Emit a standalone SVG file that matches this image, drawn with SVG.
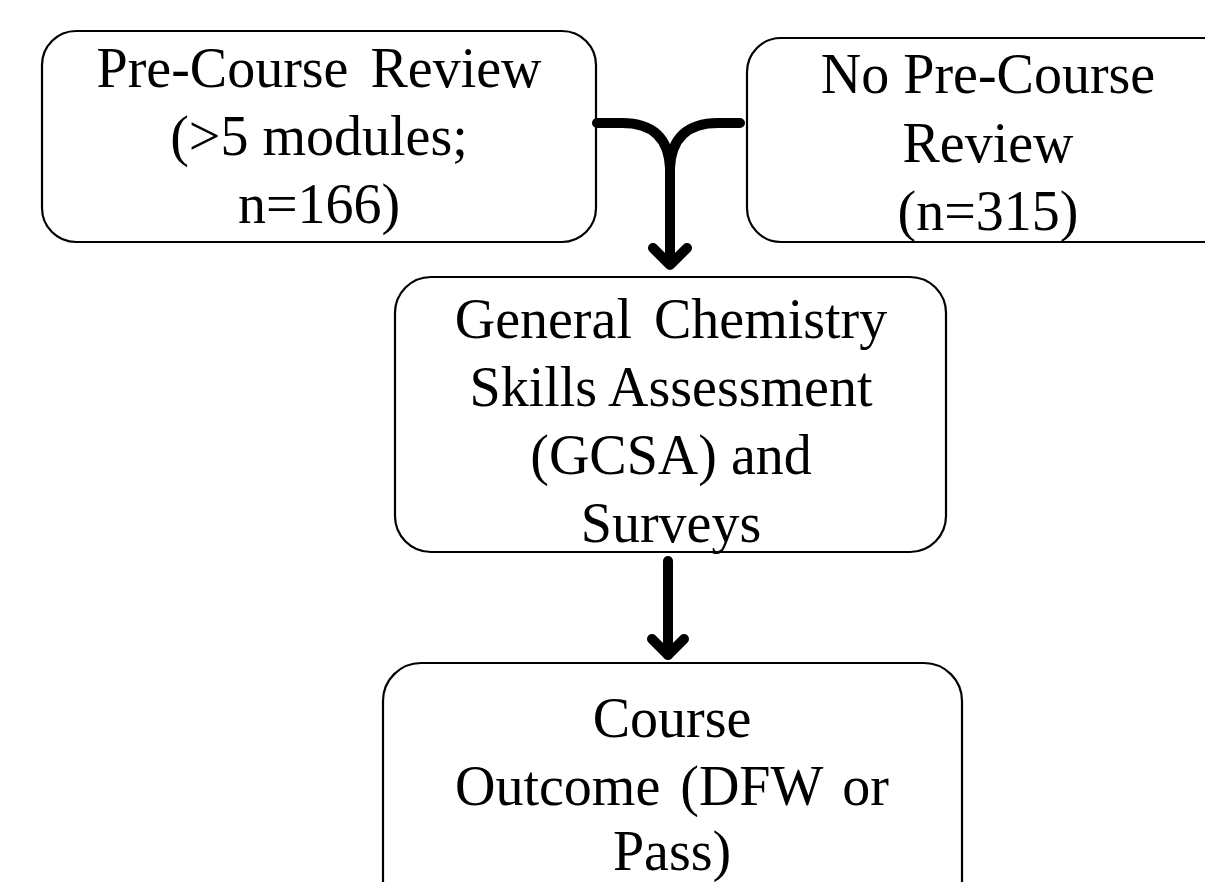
<svg xmlns="http://www.w3.org/2000/svg" width="1205" height="882" viewBox="0 0 1205 882">
<style>
.box{fill:#fff;stroke:#000;stroke-width:2.2}
.t{font-family:"Liberation Serif","Times New Roman",serif;font-size:56px;fill:#000;text-anchor:middle}
.c{fill:none;stroke:#000;stroke-width:10;stroke-linecap:round;stroke-linejoin:round}
</style>
<rect width="1205" height="882" fill="#fff"/>
<g id="node-pre">
<rect class="box" x="42" y="31" width="554" height="211" rx="34"/>
<text class="t" x="319" y="87" word-spacing="8">Pre-Course Review</text>
<text class="t" x="319" y="155">(&gt;5 modules;</text>
<text class="t" x="319" y="223">n=166)</text>
</g>
<g id="node-nopre">
<rect class="box" x="747" y="38" width="500" height="204" rx="34"/>
<text class="t" x="988" y="93">No Pre-Course</text>
<text class="t" x="988" y="162">Review</text>
<text class="t" x="988" y="230">(n=315)</text>
</g>
<g id="node-gcsa">
<rect class="box" x="395" y="277" width="551" height="275" rx="36"/>
<text class="t" x="671" y="338" word-spacing="8">General Chemistry</text>
<text class="t" x="671" y="406">Skills Assessment</text>
<text class="t" x="671" y="474">(GCSA) and</text>
<text class="t" x="671" y="542">Surveys</text>
</g>
<g id="node-outcome">
<rect class="box" x="383" y="663" width="579" height="260" rx="38"/>
<text class="t" x="672" y="737">Course</text>
<text class="t" x="672" y="805" word-spacing="6">Outcome (DFW or</text>
<text class="t" x="672" y="870">Pass)</text>
</g>
<g id="connectors">
<path class="c" d="M597,123 H622 Q668,123 670,168 V264"/>
<path class="c" d="M740,123 H718 Q672,123 670,168"/>
<path class="c" d="M653,248 L670,265 L687,248"/>
<path class="c" d="M668,561 V655"/>
<path class="c" d="M652,639 L668,655 L684,639"/>
</g>
</svg>
